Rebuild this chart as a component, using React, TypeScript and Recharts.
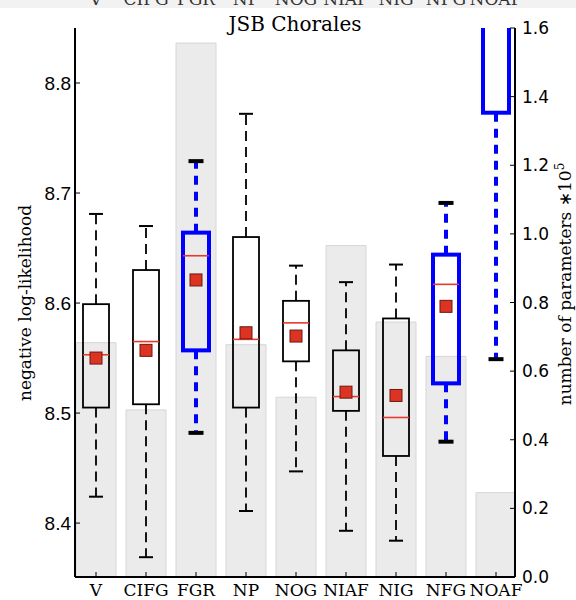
import { ComposedChart, Bar, XAxis, YAxis } from "recharts";

// models, left to right
const categories = ["V", "CIFG", "FGR", "NP", "NOG", "NIAF", "NIG", "NFG", "NOAF"];

// negative log-likelihood box stats (NOAF box top runs off the chart)
const whiskerLow = [8.424, 8.369, 8.482, 8.411, 8.447, 8.393, 8.384, 8.474, 8.549];
const quartile1 = [8.505, 8.508, 8.557, 8.505, 8.547, 8.502, 8.461, 8.527, 8.773];
const medians = [8.553, 8.565, 8.643, 8.567, 8.582, 8.515, 8.496, 8.617, 8.95];
const means = [8.55, 8.557, 8.621, 8.573, 8.57, 8.519, 8.516, 8.597, 8.93];
const quartile3 = [8.599, 8.63, 8.664, 8.66, 8.602, 8.557, 8.586, 8.644, 9.05];
const whiskerHigh = [8.681, 8.67, 8.729, 8.772, 8.634, 8.619, 8.635, 8.691, 9.2];

// number of parameters (x 10^5)
const paramCounts = [0.683, 0.487, 1.556, 0.677, 0.524, 0.966, 0.743, 0.643, 0.246];

const highlightedModels = ["FGR", "NFG", "NOAF"];

const llTicks = [8.4, 8.5, 8.6, 8.7, 8.8];
const paramTicks = [0, 0.2, 0.4, 0.6, 0.8, 1.0, 1.2, 1.4, 1.6];

const data = categories.map((name, i) => ({
  name,
  pos: i + 1,
  params: paramCounts[i],
  lo: whiskerLow[i],
  q1: quartile1[i],
  med: medians[i],
  mean: means[i],
  q3: quartile3[i],
  hi: whiskerHigh[i],
  span: [whiskerLow[i], whiskerHigh[i]],
  highlight: highlightedModels.includes(name),
}));

function BoxShape(props: any) {
  const { x, y, width, height, payload } = props;
  if (!payload) return null;
  const top = Math.min(y, y + height);
  const bottom = Math.max(y, y + height);
  const { lo, hi } = payload;
  // bar spans lo..hi, so place the other stats inside it on the same scale
  const py = (v: number) => bottom - ((v - lo) / (hi - lo)) * (bottom - top);
  const cx = x + width / 2;
  const blue = payload.highlight;
  const color = blue ? "#0000ff" : "#000";
  const lw = blue ? 4 : 1.8;
  const dash = blue ? "9 7" : "10 6";
  const boxW = 26;
  const capW = blue ? 15 : 14;
  const capLw = blue ? 4 : 2;
  const yQ1 = py(payload.q1);
  const yQ3 = py(payload.q3);
  const yMed = py(payload.med);
  const yMean = py(payload.mean);
  return (
    <g>
      <line x1={cx} x2={cx} y1={yQ3} y2={py(hi)} stroke={color} strokeWidth={lw} strokeDasharray={dash} />
      <line x1={cx} x2={cx} y1={yQ1} y2={py(lo)} stroke={color} strokeWidth={lw} strokeDasharray={dash} />
      <line x1={cx - capW / 2} x2={cx + capW / 2} y1={py(hi)} y2={py(hi)} stroke="#000" strokeWidth={capLw} />
      <line x1={cx - capW / 2} x2={cx + capW / 2} y1={py(lo)} y2={py(lo)} stroke="#000" strokeWidth={capLw} />
      <rect x={cx - boxW / 2} y={yQ3} width={boxW} height={yQ1 - yQ3} fill="none" stroke={color} strokeWidth={lw} />
      <line x1={cx - boxW / 2} x2={cx + boxW / 2} y1={yMed} y2={yMed} stroke="#e8392a" strokeWidth={1.6} />
      <rect x={cx - 6} y={yMean - 6} width={12} height={12} fill="#dd3322" stroke="#6a1a10" strokeWidth={1} />
    </g>
  );
}

export default function App() {
  return (
    <div style={{ position: "absolute", left: 0, top: 0, width: 576, height: 600, background: "#fff" }}>
      <ComposedChart
        width={576}
        height={600}
        data={data}
        margin={{ top: 28, right: 0, bottom: 0, left: 0 }}
        barSize={40}
        barGap={-40}
      >
        <XAxis
          dataKey="pos"
          type="number"
          domain={[0.58, 9.38]}
          allowDataOverflow
          ticks={[1, 2, 3, 4, 5, 6, 7, 8, 9]}
          interval={0}
          tickFormatter={(v: number) => categories[v - 1]}
          height={23}
          tickSize={-5}
          tickMargin={12}
          axisLine={{ stroke: "#000", strokeWidth: 2 }}
          tickLine={{ stroke: "#000" }}
          tick={{ fill: "#000", fontFamily: "DejaVu Serif", fontSize: 17 }}
        />
        <YAxis
          yAxisId="ll"
          orientation="left"
          width={75}
          domain={[8.351, 8.85]}
          allowDataOverflow
          ticks={llTicks}
          interval={0}
          tickFormatter={(v: number) => v.toFixed(1)}
          tickSize={-5}
          tickMargin={9}
          axisLine={{ stroke: "#000", strokeWidth: 2 }}
          tickLine={{ stroke: "#000" }}
          tick={{ fill: "#000", fontFamily: "Liberation Sans", fontSize: 19 }}
        />
        <YAxis
          yAxisId="p"
          orientation="right"
          width={61}
          domain={[0, 1.6]}
          allowDataOverflow
          ticks={paramTicks}
          interval={0}
          tickFormatter={(v: number) => v.toFixed(1)}
          tickSize={-5}
          tickMargin={12}
          axisLine={{ stroke: "#000", strokeWidth: 2 }}
          tickLine={{ stroke: "#000" }}
          tick={{ fill: "#000", fontFamily: "DejaVu Sans", fontSize: 17 }}
        />
        <Bar yAxisId="p" dataKey="params" fill="#ebebeb" stroke="#d6d6d6" strokeWidth={1} isAnimationActive={false} />
        <Bar yAxisId="ll" dataKey="span" shape={(p: any) => <BoxShape {...p} />} isAnimationActive={false} />
      </ComposedChart>
      <svg width={576} height={600} style={{ position: "absolute", left: 0, top: 0, pointerEvents: "none" }}>
        <rect x={0} y={0} width={576} height={8} fill="#f2f2f2" />
        {categories.map((c, i) => (
          <text key={c} x={96 + 50 * i} y={5} textAnchor="middle" fontFamily="DejaVu Serif" fontSize={17} fill="#333">
            {c}
          </text>
        ))}
        <text x={295} y={31} textAnchor="middle" fontFamily="DejaVu Serif" fontSize={20} fill="#000">
          JSB Chorales
        </text>
        <text x={31} y={303} transform="rotate(-90 31 303)" textAnchor="middle" fontFamily="DejaVu Serif" fontSize={17} fill="#000">
          negative log-likelihood
        </text>
        <text x={571} y={284} transform="rotate(-90 571 284)" textAnchor="middle" fontFamily="DejaVu Serif" fontSize={17} fill="#000">
          number of parameters <tspan fontFamily="DejaVu Sans">∗</tspan>10
          <tspan dy={-7} fontSize={12}>5</tspan>
        </text>
      </svg>
    </div>
  );
}
